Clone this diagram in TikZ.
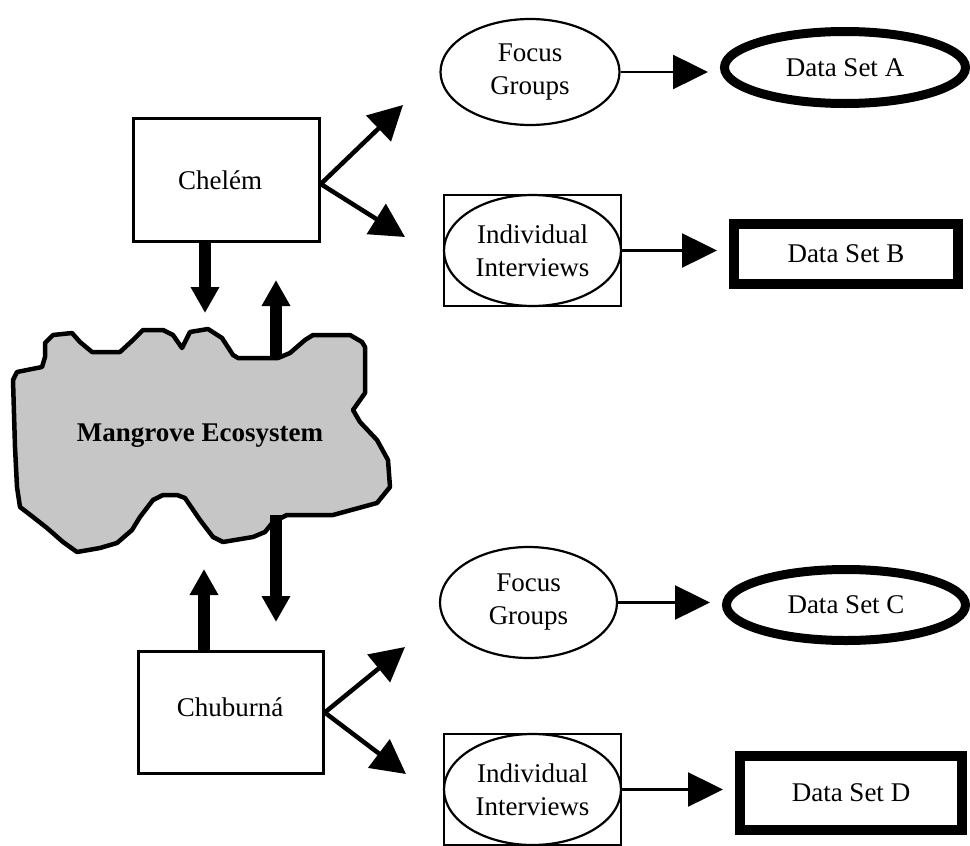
\documentclass[tikz,border=0pt]{standalone}
\usepackage{fontspec}
\setmainfont{Liberation Serif}
\usetikzlibrary{arrows.meta,shapes.geometric}
\begin{document}
\begin{tikzpicture}[x=1pt,y=-1pt,
  every node/.style={font=\fontsize{27}{33}\selectfont, align=center, inner sep=0pt},
  site/.style={draw, line width=2.5pt, rectangle},
  oval/.style={draw, line width=2.2pt, ellipse},
  frame/.style={draw, line width=2.2pt, rectangle},
  dataoval/.style={draw, line width=9pt, ellipse},
  databox/.style={draw, line width=10pt, rectangle},
  cloudshape/.style={draw, line width=4.5pt, fill=gray!45, line join=round},
  bigarrow/.style={line width=12pt, -{Triangle[width=27pt,length=26pt]}},
  brancharrow/.style={line width=4.5pt, -{Triangle[width=35pt,length=34pt]}},
  flowarrow/.style={line width=2.5pt, -{Triangle[width=34pt,length=35pt]}, shorten >=12pt}
]
\useasboundingbox (0,0) rectangle (970,846);

% mangrove ecosystem cloud
\draw[cloudshape] (45,343) -- (53,335) -- (72,333) -- (80,342) -- (92,352) -- (120,352)
  -- (133,340) -- (143,330) -- (163,330) -- (173,335) -- (182,348) -- (190,332)
  -- (208,329) -- (222,338) -- (233,355) -- (238,358) -- (278,358) -- (290,353)
  -- (305,340) -- (313,335) -- (350,335) -- (362,342) -- (365,347) -- (365,393)
  -- (353,410) -- (360,422) -- (377,440) -- (388,460) -- (390,487) -- (377,503)
  -- (333,515) -- (287,515) -- (273,522) -- (265,532) -- (253,537) -- (223,542)
  -- (213,537) -- (200,520) -- (185,498) -- (177,495) -- (163,495) -- (153,500)
  -- (140,517) -- (132,530) -- (117,543) -- (100,548) -- (77,552) -- (63,542)
  -- (47,528) -- (33,517) -- (20,507) -- (17,487) -- (15,447) -- (13,380)
  -- (17,372) -- (42,367) -- (45,357) -- cycle;
\node[font=\fontsize{27}{33}\selectfont\bfseries] (eco) at (200,436) {Mangrove Ecosystem};

% sites
\node[site, minimum width=186pt, minimum height=123pt] (chelem) at (226.5,180) {};
\node (chelemtxt) at (220,180) {Chelém};
\node[site, minimum width=185pt, minimum height=122pt] (chuburna) at (231,712.5) {};
\node (chuburnatxt) at (230,707) {Chuburná};

% methods (upper)
\node[oval, minimum width=179pt, minimum height=106pt] (fgA) at (530,72) {Focus\\Groups};
\node[frame, minimum width=177pt, minimum height=111pt] (iiBbox) at (532.5,250.5) {};
\node[oval, minimum width=177pt, minimum height=111pt] (iiB) at (532.5,250.5) {Individual\\Interviews};

% methods (lower)
\node[oval, minimum width=177pt, minimum height=111pt] (fgC) at (528.5,602.5) {Focus\\Groups};
\node[frame, minimum width=177pt, minimum height=111pt] (iiDbox) at (532.5,789.5) {};
\node[oval, minimum width=177pt, minimum height=111pt] (iiD) at (532.5,789.5) {Individual\\Interviews};

% data sets
\node[dataoval, minimum width=241pt, minimum height=72pt] (dsA) at (845,67.5) {Data Set A};
\node[databox, minimum width=224pt, minimum height=60pt] (dsB) at (846,254) {Data Set B};
\node[dataoval, minimum width=239pt, minimum height=71pt] (dsC) at (846,605) {Data Set C};
\node[databox, minimum width=222pt, minimum height=74pt] (dsD) at (851,793) {Data Set D};

% arrow end points
\coordinate (chelemDownTip) at (205,313);
\coordinate (ecoTopOut) at (276,358);
\coordinate (chelemUpTip) at (276,280);
\coordinate (ecoBotOut) at (276,515);
\coordinate (ecoDownTip) at (276,622);
\coordinate (chuburnaUpTip) at (204,569);
\coordinate (chelemFGtip) at (403,105);
\coordinate (chelemIItip) at (405,237);
\coordinate (chuburnaFGtip) at (405,647);
\coordinate (chuburnaIItip) at (406,774);

% exchanges with the ecosystem
\draw[bigarrow] (chelem.south -| chelemDownTip) -- (chelemDownTip);
\draw[bigarrow] (ecoTopOut) -- (chelemUpTip);
\draw[bigarrow] (ecoBotOut) -- (ecoDownTip);
\draw[bigarrow] (chuburna.north -| chuburnaUpTip) -- (chuburnaUpTip);

% branches
\draw[brancharrow] ([yshift=-4pt]chelem.east) -- (chelemFGtip);
\draw[brancharrow] ([yshift=-4pt]chelem.east) -- (chelemIItip);
\draw[brancharrow] (chuburna.east) -- (chuburnaFGtip);
\draw[brancharrow] (chuburna.east) -- (chuburnaIItip);

% to data sets
\draw[flowarrow] (fgA.east) -- (fgA.east -| dsA.west);
\draw[flowarrow] (iiBbox.east) -- (iiBbox.east -| dsB.west);
\draw[flowarrow] (fgC.east) -- (fgC.east -| dsC.west);
\draw[flowarrow] (iiDbox.east) -- (iiDbox.east -| dsD.west);
\end{tikzpicture}
\end{document}
